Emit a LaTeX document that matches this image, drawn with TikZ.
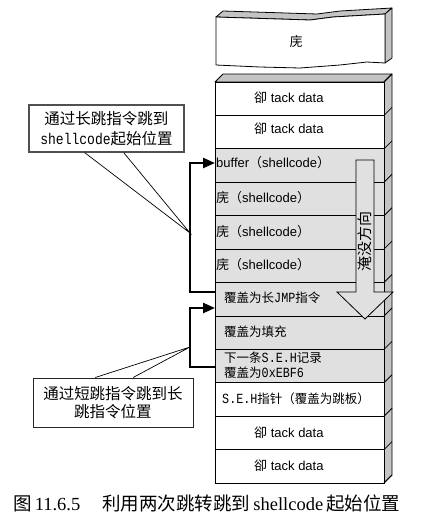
\documentclass[tikz,border=0pt]{standalone}
\usepackage{fontspec}
\setmainfont{Liberation Sans}
\newfontfamily\cjk{Noto Sans CJK SC}
\newfontfamily\mono[FakeStretch=0.84]{Liberation Mono}
\newfontfamily\serifcap{Liberation Serif}
\usetikzlibrary{arrows.meta,calc}
\definecolor{rowgray}{RGB}{224,224,224}
\definecolor{sidegray}{RGB}{196,196,196}
\definecolor{boxline}{RGB}{80,80,80}
\newcommand{\setfs}[1]{\fontsize{#1}{#1}\selectfont}
\begin{document}
\begin{tikzpicture}[x=1pt,y=-1pt,
  cell/.style={draw=black,line width=0.8pt,inner sep=0pt,minimum width=169pt,minimum height=33.42pt,fill=white},
  graycell/.style={cell,fill=rowgray},
  txt/.style={inner sep=0pt,font=\setfs{13}},
  ltxt/.style={txt,anchor=west},
  stackface/.style={draw=black,line width=0.8pt,fill=sidegray,line join=round},
  jumparrow/.style={line width=2.4pt,-{Triangle[length=12pt,width=10pt]}},
  cbox/.style={draw=boxline,line width=1.2pt,fill=white,inner sep=0pt,align=center,font=\setfs{15.5}},
  ptrline/.style={draw=black,line width=0.7pt}]
\useasboundingbox (0,0) rectangle (435,531);

% torn block
\draw[stackface] (216,17) -- (310,20) -- (333,17) -- (385,14) -- (392,8) -- (340,11) -- (317,14) -- (223,11) -- cycle;
\draw[stackface] (385,14) -- (392,8) -- (392,58) -- (385,63) -- cycle;
\draw[draw=black,line width=0.8pt,fill=white,line join=round] (216,17) -- (310,20) -- (333,17) -- (385,14) -- (385,63) -- (367,62) -- (340,65) -- (300,68) -- (260,67) -- (216,65) -- cycle;
\node[txt,font=\setfs{13}\cjk] (t0) at (296,42) {庑};

% main stack faces
\draw[stackface] (215,82) -- (223,74) -- (392,74) -- (384,82) -- cycle;
\draw[stackface] (384,82) -- (392,74) -- (392,475) -- (384,483) -- cycle;

% rows
\node[cell] (r1) at (299.5,98.71) {};
\node[cell] (r2) at (299.5,132.13) {};
\node[graycell] (r3) at (299.5,165.55) {};
\node[graycell] (r4) at (299.5,198.97) {};
\node[graycell] (r5) at (299.5,232.39) {};
\node[graycell] (r6) at (299.5,265.81) {};
\node[graycell] (r7) at (299.5,299.23) {};
\node[graycell] (r8) at (299.5,332.65) {};
\node[graycell] (r9) at (299.5,366.07) {};
\node[cell] (r10) at (299.5,399.49) {};
\node[cell] (r11) at (299.5,432.91) {};
\node[cell] (r12) at (299.5,466.33) {};

\foreach \k in {0,...,12}{
  \draw[line width=0.8pt] (384,82+33.42*\k) -- ++(8,-8);
}

% row texts
\node[ltxt] (t1) at (254,98) {{\cjk 卻} tack data};
\node[ltxt] (t2) at (254,129) {{\cjk 卻} tack data};
\node[ltxt] (t3) at (216,163) {buffer{\cjk （}shellcode{\cjk ）}};
\node[ltxt] (t4) at (216,198) {{\cjk 庑（}shellcode{\cjk ）}};
\node[ltxt] (t5) at (216,232) {{\cjk 庑（}shellcode{\cjk ）}};
\node[ltxt] (t6) at (216,265) {{\cjk 庑（}shellcode{\cjk ）}};

% flood arrow
\draw[draw=black,line width=0.8pt,fill=rowgray,line join=miter] (356,160) -- (374,160) -- (374,292) -- (393,292) -- (365,319) -- (337,292) -- (356,292) -- cycle;
\node[inner sep=0pt,rotate=90,font=\setfs{15}\cjk] (flood) at (365,241) {淹没方向};

\node[ltxt,font=\setfs{12.5}] (t7) at (224,298) {{\cjk 覆盖为长}{\mono\setfs{14}JMP}{\cjk 指令}};
\node[ltxt,font=\setfs{12.5}] (t8) at (224,332) {{\cjk 覆盖为填充}};
\node[ltxt,font=\setfs{12.5},align=left] (t9) at (224,365) {{\cjk 下一条}{\mono\setfs{14}S.E.H}{\cjk 记录}\\[3pt]{\cjk 覆盖为}{\mono\setfs{14}0xEBF6}};
\node[ltxt,font=\setfs{12.5}] (t10) at (222,399) {{\mono\setfs{14}S.E.H}{\cjk 指针（覆盖为跳板）}};
\node[ltxt] (t11) at (254,433) {{\cjk 卻} tack data};
\node[ltxt] (t12) at (254,466) {{\cjk 卻} tack data};

% jump arrows
\coordinate (j1s) at (215,292);
\coordinate (j1a) at (190,292);
\coordinate (j1b) at (190,163);
\coordinate (j1e) at (215,163);
\draw[jumparrow] (j1s) -- (j1a) -- (j1b) -- (j1e);
\coordinate (j2s) at (215,367);
\coordinate (j2a) at (190,367);
\coordinate (j2b) at (190,308);
\coordinate (j2e) at (215,308);
\draw[jumparrow] (j2s) -- (j2a) -- (j2b) -- (j2e);

% callouts
\node[cbox,minimum width=155pt,minimum height=47pt] (c1) at (106.5,128.5)
  {{\cjk 通过长跳指令跳到}\\[4pt]{\mono shellcode}{\cjk 起始位置}};
\coordinate (tip1) at (190,233);
\draw[ptrline] ($(c1.south west)!0.36!(c1.south east)$) -- (tip1) -- ($(c1.south west)!0.61!(c1.south east)$);

\node[cbox,minimum width=160pt,minimum height=49pt,line width=1pt,draw=black!85] (c2) at (113,402.5)
  {{\cjk 通过短跳指令跳到长}\\[3pt]{\cjk 跳指令位置}};
\coordinate (tip2) at (190,347);
\draw[ptrline] ($(c2.north west)!0.39!(c2.north east)$) -- (tip2) -- ($(c2.north west)!0.625!(c2.north east)$);

% caption
\node[anchor=west,inner sep=0pt,font=\setfs{18.5}] (cap) at (13,503)
  {{\cjk 图}\,{\serifcap 11.6.5}\hspace{22pt}{\cjk 利用两次跳转跳到}\,{\serifcap shellcode}\,{\cjk 起始位置}};
\end{tikzpicture}
\end{document}
